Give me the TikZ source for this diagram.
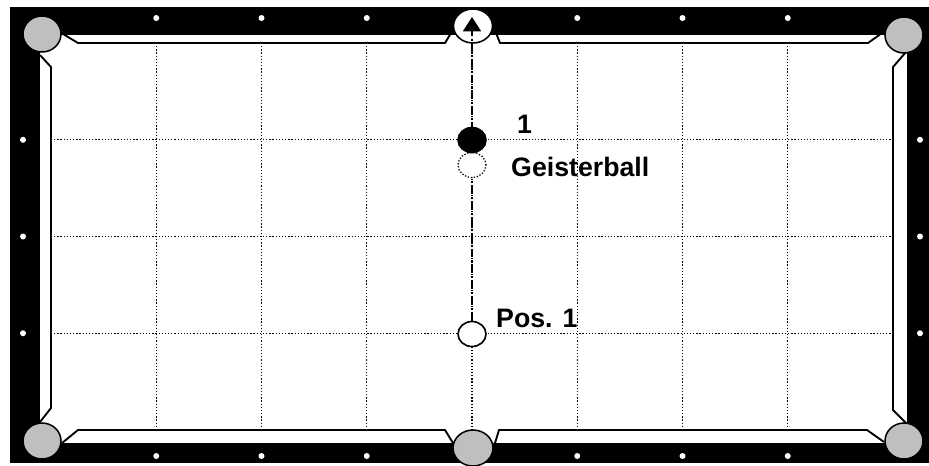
\documentclass[tikz,border=0pt]{standalone}
\usepackage{fontspec}
\setmainfont{Liberation Sans}
\usetikzlibrary{arrows.meta,shapes.geometric}
\begin{document}
\begin{tikzpicture}[
  x=0.03cm, y=-0.03cm,
  font=\fontsize{22.8}{27}\selectfont\bfseries,
  cushion/.style={draw=black, line width=1.6pt, line join=miter},
  gridline/.style={black, line width=1.1pt, dash pattern=on 1.1pt off 1.6pt},
  pocket/.style={
    ellipse, draw=black, line width=1.3pt, fill=black!25,
    minimum width=1.14cm, minimum height=1.08cm, inner sep=0pt
  },
  ball/.style={
    ellipse, draw=black, line width=1.4pt, fill=white,
    minimum width=0.84cm, minimum height=0.75cm, inner sep=0pt
  },
  ghost/.style={ball, line width=1.1pt, dash pattern=on 1.1pt off 1.5pt},
  aim/.style={
    black, line width=1.5pt, dash pattern=on 7pt off 2.5pt on 1.5pt off 2.5pt,
    -{Triangle[length=0.43cm, width=0.54cm]}
  },
  label/.style={anchor=base west, inner sep=0pt},
]
\useasboundingbox (0,0) rectangle (929,465);

% Rail and table bed
\fill[black] (10,7) rectangle (929,463);
\fill[white] (40,35) rectangle (907,443);

% Grid of the diamonds
\foreach \k in {1,...,7} {
  \draw[gridline] ({51+\k*105.25},43) -- ({51+\k*105.25},430);
}
\foreach \k in {1,2,3} {
  \draw[gridline] (51,{43+\k*96.75}) -- (893,{43+\k*96.75});
}

% Cushions
\draw[cushion] (63,34) -- (78,43) -- (445,43) -- (451,33);
\draw[cushion] (496,33) -- (500,43) -- (868,43) -- (882,33);
\draw[cushion] (906,52) -- (893,67) -- (893,410) -- (906,423);
\draw[cushion] (884,442) -- (867,430) -- (499,430) -- (495,443);
\draw[cushion] (453,443) -- (445,430) -- (78,430) -- (62,443);
\draw[cushion] (40,422) -- (51,408) -- (51,67) -- (40,55);

% Pockets
\node[pocket] (pTL) at (42,34) {};
\node[pocket] (pTR) at (904,35) {};
\node[pocket] (pBL) at (42,441) {};
\node[pocket] (pBR) at (904,441) {};
\node[pocket, minimum width=1.2cm] (pBM) at (473,448) {};
\node[pocket, fill=white, minimum width=1.17cm, minimum height=1.02cm] (pTM) at (473,26) {};

% Diamonds
\foreach \k in {1,2,3,5,6,7} {
  \fill[white] ({51+\k*105.25},18) circle (3);
  \fill[white] ({51+\k*105.25},456) circle (3);
}
\foreach \k in {1,2,3} {
  \fill[white] (23,{43+\k*96.75}) circle (3);
  \fill[white] (920,{43+\k*96.75}) circle (3);
}

% Balls and aiming line
\node[ball] (cue) at (472,334) {};
\coordinate (tip) at (472,17);
\draw[aim] (cue.north) -- (tip);
\node[ghost] (geist) at (472,165) {};
\node[ball, fill=black] (obj) at (472,140) {};

% Labels
\node[label] (lobj) at (517,133) {1};
\node[label] (lgeist) at (511,176) {Geisterball};
\node[label] (lcue) at (496,327) {Pos. 1};

\end{tikzpicture}
\end{document}
